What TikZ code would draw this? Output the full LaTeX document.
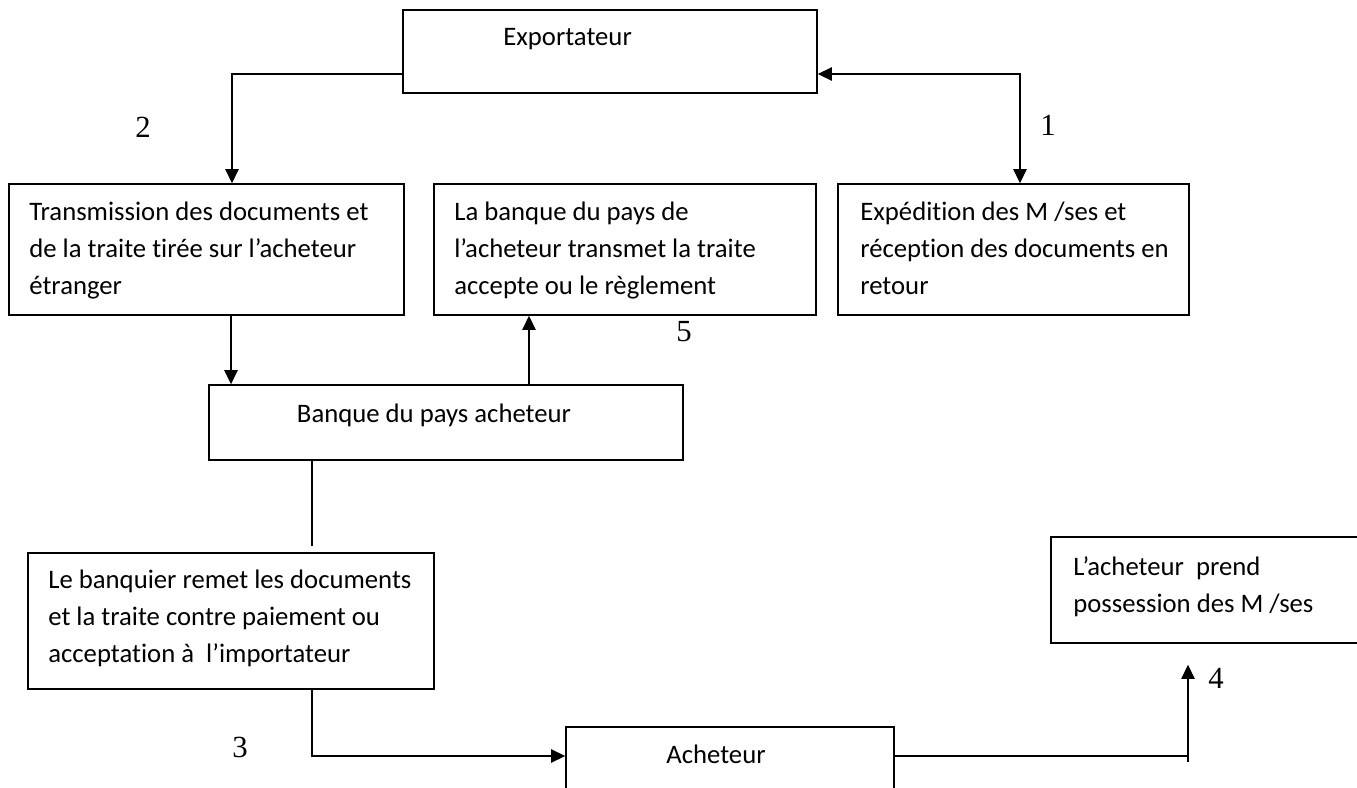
\documentclass[tikz,border=0pt]{standalone}
\usepackage{fontspec}
\setmainfont{Carlito}[Ligatures=NoCommon]
\newfontfamily\numfont{Liberation Serif}
\usetikzlibrary{arrows.meta,fit}
% left-aligned block of lines whose baseline is that of its first line
\newcommand\linesblock[1]{\vtop{\baselineskip=21.34pt\halign{##\hfil\cr#1\crcr}}}
\begin{document}
\begin{tikzpicture}[x=0.02cm,y=-0.02cm,
  box/.style={draw,line width=0.8pt,inner sep=0pt},
  txt/.style={inner sep=0pt,anchor=base west,font=\fontsize{15.2}{21.34}\selectfont},
  num/.style={inner sep=0pt,font=\numfont\fontsize{17.5}{20}\selectfont},
  link/.style={line width=0.75pt},
  tip/.tip={Triangle[length=8pt,width=7.5pt]},
  arr/.style={link,-tip},
  darr/.style={link,tip-tip}]
\useasboundingbox (0,0) rectangle (1357,788);
\begin{scope}
\clip (0,0) rectangle (1357,788);

% boxes
\node[box,fit={(403,10) (817,93)}] (exp) {};
\node[box,fit={(9,184) (404,315)}] (trans) {};
\node[box,fit={(434,184) (816,315)}] (lab) {};
\node[box,fit={(838,184) (1189,315)}] (exped) {};
\node[box,fit={(209,385) (683,460)}] (bnq) {};
\node[box,fit={(28,553) (434,689)}] (bqr) {};
\node[box,fit={(566,727) (894,820)}] (ach) {};
\node[box,fit={(1051,537) (1380,643)}] (lach) {};

% box texts
\node[txt] (texp) at (503,45) {Exportateur};
\node[txt] (ttrans) at (29,220) {\linesblock{Transmission des documents et\cr de la traite tirée sur l’acheteur\cr étranger}};
\node[txt] (tlab) at (454,220) {\linesblock{La banque du pays de\cr l’acheteur transmet la traite\cr accepte ou le règlement}};
\node[txt] (texped) at (860,220) {\linesblock{Expédition des M /ses et\cr réception des documents en\cr retour}};
\node[txt,anchor=base] (tbnq) at (434,422) {Banque du pays acheteur};
\node[txt] (tbqr) at (48,588) {\linesblock{Le banquier remet les documents\cr et la traite contre paiement ou\cr acceptation à~ l’importateur}};
\node[txt] (tach) at (666,763) {Acheteur};
\node[txt] (tlach) at (1073,575) {\linesblock{L’acheteur~ prend\cr possession des M /ses}};

% step numbers
\node[num] (n1) at (1048,125) {1};
\node[num] (n2) at (143,127) {2};
\node[num] (n3) at (240,747) {3};
\node[num] (n4) at (1216,678) {4};
\node[num] (n5) at (684,332) {5};

% connectors
\draw[darr] (exp.east |- 0,74) -| (1020,0 |- exped.north);
\draw[arr] (exp.west |- 0,74) -| (232,0 |- trans.north);
\draw[arr] (231,0 |- trans.south) -- (231,0 |- bnq.north);
\draw[arr] (529,0 |- bnq.north) -- (529,0 |- lab.south);
\draw[link,shorten >=0.12cm] (312,0 |- bnq.south) -- (312,0 |- bqr.north);
\draw[arr] (312,0 |- bqr.south) |- (ach.west |- 0,756);
\draw[link] (ach.east |- 0,756) -- (1188,756);
\draw[arr,shorten >=0.42cm] (1188,762) -- (1188,0 |- lach.south);
\end{scope}
\end{tikzpicture}
\end{document}
